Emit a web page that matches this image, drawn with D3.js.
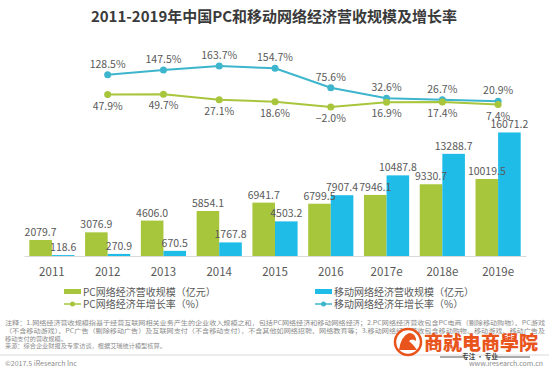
<!DOCTYPE html>
<html>
<head>
<meta charset="utf-8">
<script src="https://cdn.jsdelivr.net/npm/d3@7"></script>
<style>
  body { margin: 0; background: #fff; }
  svg { font-family: "Noto Sans CJK SC", "Noto Sans", sans-serif; }
</style>
</head>
<body>
<div id="chart"></div>
<script>
var svgWidth = 549;
var svgHeight = 371;

// chart values
var years = ["2011", "2012", "2013", "2014", "2015", "2016", "2017e", "2018e", "2019e"];
var pcRevenue = [2079.7, 3076.9, 4606.0, 5854.1, 6941.7, 6799.5, 7946.1, 9330.7, 10019.5];
var mobileRevenue = [118.6, 270.9, 670.5, 1767.8, 4503.2, 7907.4, 10487.8, 13288.7, 16071.2];
var pcGrowth = [null, 47.9, 49.7, 27.1, 18.6, -2.0, 16.9, 17.4, 7.4];
var mobileGrowth = [null, 128.5, 147.5, 163.7, 154.7, 75.6, 32.6, 26.7, 20.9];

var legendLabels = ["PC网络经济营收规模（亿元）", "移动网络经济营收规模（亿元）",
                    "PC网络经济年增长率（%）", "移动网络经济年增长率（%）"];
var noteLines = [
  "注释：1.网络经济营收规模指基于经营互联网相关业务产生的企业收入规模之和，包括PC网络经济和移动网络经济；2.PC网络经济营收包含PC电商（剔除移动购物）、PC游戏",
  "（不含移动游戏）、PC广告（剔除移动广告）及互联网支付（不含移动支付），不含其他如网络招聘、网络教育等；3.移动网络经济营收包含移动购物、移动游戏、移动广告及",
  "移动支付的营收规模。",
  "来源：综合企业财报及专家访谈，根据艾瑞统计模型核算。"
];

var green = "#a8c63c";
var blue = "#1fbce8";
var lineBlue = "#3db5cc";
var textGray = "#595959";

var svg = d3.select("#chart")
  .append("svg")
  .attr("width", svgWidth)
  .attr("height", svgHeight);

// title
svg.append("text")
  .attr("x", 274)
  .attr("y", 22)
  .attr("text-anchor", "middle")
  .attr("font-size", "15px")
  .attr("font-weight", 700)
  .attr("fill", "#3a3a3a")
  .text("2011-2019年中国PC和移动网络经济营收规模及增长率");

// scales
var xScale = d3.scaleBand()
  .domain(years)
  .range([24, 526])
  .paddingInner(0.19)
  .paddingOuter(0.095);

var xSub = d3.scaleBand()
  .domain(["pc", "mobile"])
  .range([0, xScale.bandwidth()]);

var yBar = d3.scaleLinear()
  .domain([0, 17000])
  .range([256, 125.3]);

var yRate = d3.scaleLinear()
  .domain([0, 163.7])
  .range([106.4, 66]);

var rows = years.map(function(y, i) {
  return { year: y, pc: pcRevenue[i], mobile: mobileRevenue[i], pcG: pcGrowth[i], mobG: mobileGrowth[i] };
});

var series = [["pc", green], ["mobile", blue]];

// bars first, then their labels so labels sit on top
var groups = svg.selectAll(".grp")
  .data(rows)
  .enter()
  .append("g")
  .attr("transform", d => `translate(${xScale(d.year)},0)`);

series.forEach(function(s) {
  groups.append("rect")
    .attr("x", xSub(s[0]))
    .attr("y", d => yBar(d[s[0]]))
    .attr("width", xSub.bandwidth())
    .attr("height", d => yBar(0) - yBar(d[s[0]]))
    .attr("fill", s[1]);
});

series.forEach(function(s) {
  groups.append("text")
    .attr("x", xSub(s[0]) + xSub.bandwidth() / 2)
    .attr("y", d => yBar(d[s[0]]) - 4)
    .attr("text-anchor", "middle")
    .attr("font-size", "10.5px")
    .attr("fill", textGray)
    .text(d => d3.format(".1f")(d[s[0]]));
});

// x axis
var xAxis = svg.append("g")
  .attr("transform", "translate(0,256)")
  .call(d3.axisBottom(xScale).tickSize(0).tickPadding(12));
xAxis.select(".domain").attr("stroke", "#d9d9d9");
xAxis.selectAll("text")
  .attr("font-size", "11.5px")
  .attr("font-family", "\"Noto Sans CJK SC\", sans-serif")
  .attr("fill", textGray);

// growth lines
var cx = d => xScale(d.year) + xScale.bandwidth() / 2;

[["mobG", lineBlue, -7], ["pcG", green, 15]].forEach(function(s) {
  var pts = rows.filter(d => d[s[0]] !== null);
  svg.append("path")
    .datum(pts)
    .attr("fill", "none")
    .attr("stroke", s[1])
    .attr("stroke-width", 2)
    .attr("d", d3.line().x(cx).y(d => yRate(d[s[0]])));

  svg.selectAll(".pt-" + s[0])
    .data(pts)
    .enter()
    .append("circle")
    .attr("cx", cx)
    .attr("cy", d => yRate(d[s[0]]))
    .attr("r", 3.5)
    .attr("fill", s[1]);

  svg.selectAll(".lb-" + s[0])
    .data(pts)
    .enter()
    .append("text")
    .attr("x", cx)
    .attr("y", d => yRate(d[s[0]]) + s[2])
    .attr("text-anchor", "middle")
    .attr("font-size", "10.5px")
    .attr("fill", textGray)
    .text(d => d3.format(".1f")(d[s[0]]) + "%");
});

// legend
var legend = svg.append("g").attr("font-size", "10px").attr("fill", textGray);
var legendPos = [[64, 292], [315, 292], [64, 304], [315, 304]];
var legendColors = [green, blue, green, lineBlue];

legendLabels.forEach(function(label, i) {
  var p = legendPos[i];
  if (i < 2) {
    legend.append("rect")
      .attr("x", p[0]).attr("y", p[1] - 3)
      .attr("width", 17).attr("height", 5)
      .attr("fill", legendColors[i]);
  } else {
    legend.append("line")
      .attr("x1", p[0]).attr("x2", p[0] + 17)
      .attr("y1", p[1]).attr("y2", p[1])
      .attr("stroke", legendColors[i]).attr("stroke-width", 1.5);
    legend.append("circle")
      .attr("cx", p[0] + 8.5).attr("cy", p[1]).attr("r", 2.5)
      .attr("fill", legendColors[i]);
  }
  legend.append("text")
    .attr("x", p[0] + 19)
    .attr("y", p[1] + 3.5)
    .text(label);
});

// notes
noteLines.forEach(function(line, i) {
  var t = svg.append("text")
    .attr("x", 5)
    .attr("y", 325 + i * 7.8)
    .attr("font-size", "6.2px")
    .attr("fill", "#8c8c8c")
    .text(line);
  if (i < 2) t.attr("textLength", 540).attr("lengthAdjust", "spacingAndGlyphs");
});

svg.append("line")
  .attr("x1", 0).attr("x2", 549)
  .attr("y1", 355).attr("y2", 355)
  .attr("stroke", "#d0d0d0").attr("stroke-width", 0.8);

svg.append("text")
  .attr("x", 5).attr("y", 366)
  .attr("font-size", "7px").attr("fill", "#8c8c8c")
  .text("©2017.5 iResearch Inc");

svg.append("text")
  .attr("x", 543).attr("y", 366)
  .attr("text-anchor", "end")
  .attr("font-size", "7px").attr("fill", "#8c8c8c")
  .text("www.iresearch.com.cn");

// watermark
var wm = svg.append("g").attr("fill", "#e9541c");
wm.append("circle")
  .attr("cx", 408).attr("cy", 342).attr("r", 13)
  .attr("fill", "#fff").attr("stroke", "#e9541c").attr("stroke-width", 2.5);
wm.append("path")
  .attr("d", "M399,350 Q401,336 409,333 Q416,333 416,341 Q412,338 409,341 Q414,345 417,350 Z");
wm.append("text")
  .attr("x", 424).attr("y", 350)
  .attr("font-size", "19px").attr("font-weight", 900)
  .text("商就电商學院");
wm.append("text")
  .attr("x", 480).attr("y", 359)
  .attr("text-anchor", "middle")
  .attr("font-size", "6.5px").attr("font-weight", 700).attr("fill", "#444")
  .text("专注 · 专业");
svg.append("line").attr("x1", 440).attr("x2", 465).attr("y1", 357).attr("y2", 357).attr("stroke", "#555").attr("stroke-width", 1);
svg.append("line").attr("x1", 496).attr("x2", 530).attr("y1", 357).attr("y2", 357).attr("stroke", "#555").attr("stroke-width", 1);
</script>
</body>
</html>
